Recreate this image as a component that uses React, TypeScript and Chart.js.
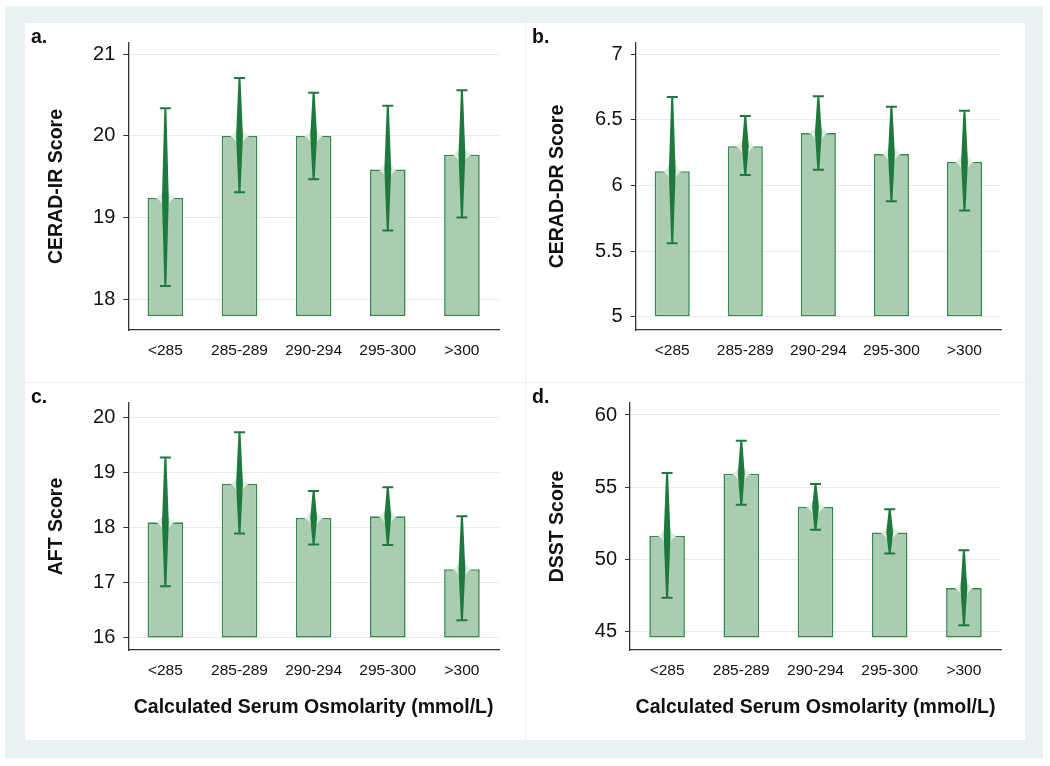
import React, { useEffect, useRef } from 'react';
import { Chart, registerables } from 'chart.js';

Chart.register(...registerables);

const FONT = "'Liberation Sans', Arial, Helvetica, sans-serif";

const categories = ['<285', '285-289', '290-294', '295-300', '>300'];
const xAxisTitle = 'Calculated Serum Osmolarity (mmol/L)';

// a. CERAD-IR
const ceradIrMean = [19.24, 20.0, 20.0, 19.59, 19.77];
const ceradIrLower = [18.16, 19.31, 19.47, 18.84, 19.0];
const ceradIrUpper = [20.34, 20.71, 20.53, 20.37, 20.56];
const ceradIrTicks = [18, 19, 20, 21];
const ceradIrTickLabels = ['18', '19', '20', '21'];

// b. CERAD-DR
const ceradDrMean = [6.11, 6.3, 6.4, 6.24, 6.18];
const ceradDrLower = [5.56, 6.08, 6.12, 5.88, 5.81];
const ceradDrUpper = [6.675, 6.53, 6.68, 6.6, 6.57];
const ceradDrTicks = [5, 5.5, 6, 6.5, 7];
const ceradDrTickLabels = ['5', '5.5', '6', '6.5', '7'];

// c. AFT
const aftMean = [18.1, 18.8, 18.18, 18.21, 17.25];
const aftLower = [16.94, 17.9, 17.7, 17.69, 16.32];
const aftUpper = [19.28, 19.74, 18.67, 18.74, 18.21];
const aftTicks = [16, 17, 18, 19, 20];
const aftTickLabels = ['16', '17', '18', '19', '20'];

// d. DSST
const dsstMean = [51.64, 55.94, 53.63, 51.87, 48.02];
const dsstLower = [47.35, 53.78, 52.05, 50.41, 45.44];
const dsstUpper = [55.99, 58.22, 55.23, 53.47, 50.64];
const dsstTicks = [45, 50, 55, 60];
const dsstTickLabels = ['45', '50', '55', '60'];

const BAR_FILL = '#aacdb1';
const BAR_BORDER = '#34884c';
const ERR_COLOR = '#1d7a3c';

type PanelSpec = {
  label: string;
  yTitle: string;
  mean: number[];
  lower: number[];
  upper: number[];
  ticks: number[];
  tickLabels: string[];
  min: number;
  max: number;
  base: number;
  showXTitle: boolean;
  left: number;
  top: number;
  width: number;
  height: number;
  yWidth: number;
  xHeight: number;
  padRight: number;
  padTop: number;
};

const panels: PanelSpec[] = [
  {
    label: 'a.', yTitle: 'CERAD-IR Score', mean: ceradIrMean, lower: ceradIrLower, upper: ceradIrUpper,
    ticks: ceradIrTicks, tickLabels: ceradIrTickLabels, min: 17.62, max: 21.14, base: 17.79,
    showXTitle: false, left: 25, top: 23, width: 500, height: 359, yWidth: 95.3, xHeight: 42, padRight: 26, padTop: 20,
  },
  {
    label: 'b.', yTitle: 'CERAD-DR Score', mean: ceradDrMean, lower: ceradDrLower, upper: ceradDrUpper,
    ticks: ceradDrTicks, tickLabels: ceradDrTickLabels, min: 4.9, max: 7.086, base: 5,
    showXTitle: false, left: 526, top: 23, width: 499, height: 359, yWidth: 101.7, xHeight: 42, padRight: 24, padTop: 20,
  },
  {
    label: 'c.', yTitle: 'AFT Score', mean: aftMean, lower: aftLower, upper: aftUpper,
    ticks: aftTicks, tickLabels: aftTickLabels, min: 15.78, max: 20.27, base: 16,
    showXTitle: true, left: 25, top: 383, width: 500, height: 357, yWidth: 95.3, xHeight: 80, padRight: 26, padTop: 19.7,
  },
  {
    label: 'd.', yTitle: 'DSST Score', mean: dsstMean, lower: dsstLower, upper: dsstUpper,
    ticks: dsstTicks, tickLabels: dsstTickLabels, min: 43.73, max: 60.83, base: 44.59,
    showXTitle: true, left: 526, top: 383, width: 499, height: 357, yWidth: 96, xHeight: 80, padRight: 24, padTop: 19.7,
  },
];

function Panel({ spec }: { spec: PanelSpec }) {
  const ref = useRef<HTMLCanvasElement | null>(null);

  useEffect(() => {
    const canvas = ref.current;
    if (!canvas) return;

    const decorations = {
      id: 'decorations_' + spec.label,
      afterDatasetsDraw(chart: any) {
        const ctx = chart.ctx as CanvasRenderingContext2D;
        const meta = chart.getDatasetMeta(0);
        const yScale = chart.scales.y;
        ctx.save();
        meta.data.forEach((el: any, i: number) => {
          const x = el.x;
          const yt = yScale.getPixelForValue(spec.upper[i]);
          const yb = yScale.getPixelForValue(spec.lower[i]);
          const ym = yScale.getPixelForValue(spec.mean[i]);

          // soft glow around the mean
          const gh = 14;
          const gw = 9.5;
          ctx.beginPath();
          ctx.moveTo(x, ym - gh);
          ctx.quadraticCurveTo(x + 3, ym - 3, x + gw, ym);
          ctx.quadraticCurveTo(x + 3, ym + 3, x, ym + gh);
          ctx.quadraticCurveTo(x - 3, ym + 3, x - gw, ym);
          ctx.quadraticCurveTo(x - 3, ym - 3, x, ym - gh);
          ctx.closePath();
          ctx.fillStyle = 'rgba(222, 238, 226, 1)';
          ctx.fill();

          // spindle
          ctx.beginPath();
          ctx.moveTo(x - 1, yt);
          ctx.lineTo(x + 1, yt);
          ctx.lineTo(x + 3.4, ym);
          ctx.lineTo(x + 1, yb);
          ctx.lineTo(x - 1, yb);
          ctx.lineTo(x - 3.4, ym);
          ctx.closePath();
          ctx.fillStyle = ERR_COLOR;
          ctx.fill();

          // caps
          ctx.strokeStyle = ERR_COLOR;
          ctx.lineWidth = 2;
          ctx.beginPath();
          ctx.moveTo(x - 5.5, yt);
          ctx.lineTo(x + 5.5, yt);
          ctx.moveTo(x - 5.5, yb);
          ctx.lineTo(x + 5.5, yb);
          ctx.stroke();
        });

        // panel letter
        ctx.fillStyle = '#111';
        ctx.font = `bold 19.5px ${FONT}`;
        ctx.textAlign = 'left';
        ctx.textBaseline = 'alphabetic';
        ctx.fillText(spec.label, 6, 20);
        ctx.restore();
      },
    };

    const chart = new Chart(canvas, {
      type: 'bar',
      data: {
        labels: categories,
        datasets: [
          {
            data: spec.mean,
            base: spec.base,
            backgroundColor: BAR_FILL,
            borderColor: BAR_BORDER,
            borderWidth: 1.6,
            borderSkipped: false,
            barPercentage: 0.48,
            categoryPercentage: 1,
          } as any,
        ],
      },
      options: {
        animation: false,
        responsive: false,
        events: [],
        layout: { padding: { left: 8, right: spec.padRight, top: spec.padTop, bottom: 10 } },
        plugins: {
          legend: { display: false },
          tooltip: { enabled: false },
          title: { display: false },
        },
        scales: {
          x: {
            type: 'category',
            offset: true,
            grid: { display: false, drawTicks: false },
            border: { display: true, color: '#333', width: 1.3 },
            ticks: {
              color: '#111',
              font: { family: FONT, size: 15.5 },
              padding: 11.2,
              maxRotation: 0,
              autoSkip: false,
            },
            title: {
              display: spec.showXTitle,
              text: xAxisTitle,
              color: '#111',
              font: { family: FONT, size: 19.5, weight: 'bold' },
              padding: { top: 0, bottom: 10.3 },
            },
            afterFit: (s: any) => {
              s.height = spec.xHeight;
            },
          },
          y: {
            type: 'linear',
            min: spec.min,
            max: spec.max,
            grid: { color: '#e2ecf2', lineWidth: 1, tickColor: '#333', tickLength: 5, drawTicks: true },
            border: { display: true, color: '#333', width: 1.3 },
            ticks: {
              color: '#111',
              font: { family: FONT, size: 20 },
              padding: 8,
              callback: (v: any) => {
                const idx = spec.ticks.findIndex((t) => Math.abs(t - Number(v)) < 1e-6);
                return idx >= 0 ? spec.tickLabels[idx] : '';
              },
            },
            afterBuildTicks: (s: any) => {
              s.ticks = spec.ticks.map((v) => ({ value: v }));
            },
            title: {
              display: true,
              text: spec.yTitle,
              color: '#111',
              font: { family: FONT, size: 19.5, weight: 'bold' },
              padding: { top: 12.3, bottom: 0 },
            },
            afterFit: (s: any) => {
              s.width = spec.yWidth;
            },
          },
        },
      } as any,
      plugins: [decorations],
    });

    return () => chart.destroy();
  }, [spec]);

  return (
    <div
      style={{
        position: 'absolute',
        left: spec.left,
        top: spec.top,
        width: spec.width,
        height: spec.height,
        background: '#ffffff',
      }}
    >
      <canvas ref={ref} width={spec.width} height={spec.height} style={{ display: 'block' }} />
    </div>
  );
}

export default function App() {
  return (
    <div style={{ position: 'absolute', left: 0, top: 0, width: 1050, height: 766, background: '#ffffff' }}>
      <div
        style={{ position: 'absolute', left: 5, top: 6, width: 1038, height: 752, background: '#e8f2f3' }}
      />
      {panels.map((p) => (
        <Panel key={p.label} spec={p} />
      ))}
    </div>
  );
}
